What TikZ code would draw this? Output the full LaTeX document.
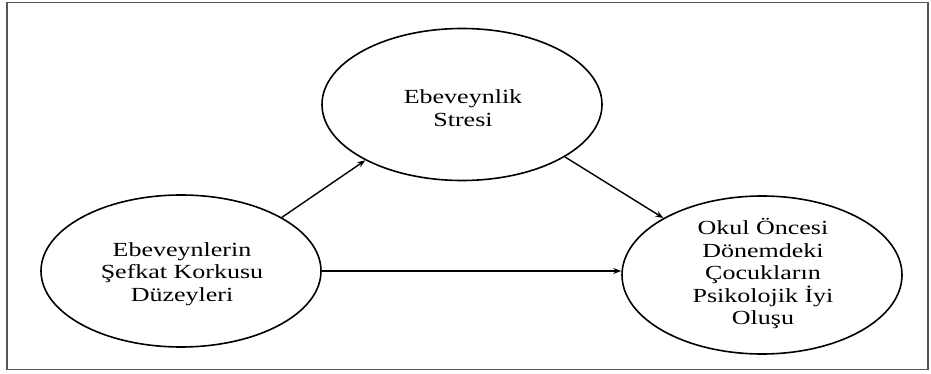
\documentclass[tikz,border=0pt]{standalone}
\usepackage{fontspec}
\setmainfont{Liberation Serif}[FakeStretch=1.3]
\usetikzlibrary{shapes.geometric,arrows.meta}
\definecolor{framegray}{RGB}{85,85,85}
\begin{document}
\begin{tikzpicture}[x=1pt,y=-1pt,
  oval/.style={ellipse,draw,line width=1.6pt,minimum width=280pt,minimum height=152pt,inner sep=0pt},
  lbl/.style={align=center,font=\fontsize{20}{22.5}\selectfont,inner sep=0pt},
  conn/.style={line width=1.4pt,-{Stealth[length=8pt,width=6pt]}},
  frame/.style={draw=framegray,line width=1.5pt}]
\useasboundingbox (0,0) rectangle (931,374);
\fill[white] (0,0) rectangle (931,374);
\draw[frame] (7,2.5) rectangle (928,369.5);
% ellipses
\node[oval] (top) at (462,104.5) {};
\node[oval] (left) at (181,271) {};
\node[oval,minimum height=158pt] (right) at (762,275) {};
% texts
\node[lbl] (ttop) at (463,108) {Ebeveynlik\\Stresi};
\node[lbl] (tleft) at (182,274) {Ebeveynlerin\\Şefkat Korkusu\\Düzeyleri};
\node[lbl] (tright) at (763,274) {Okul Öncesi\\Dönemdeki\\Çocukların\\Psikolojik İyi\\Oluşu};
% connectors
\draw[conn] (left.28) -- (top.210);
\draw[conn] (top.-27) -- (right.150);
\draw[conn] (left.east) -- (left.east -| right.west);
\end{tikzpicture}
\end{document}
